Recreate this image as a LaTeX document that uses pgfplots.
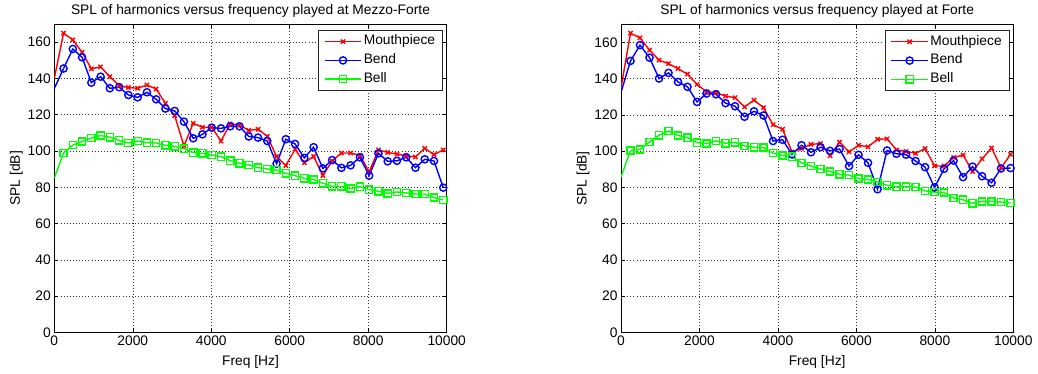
\documentclass[border=0pt]{standalone}
\usepackage{pgfplots}
\pgfplotsset{compat=1.18}
\usepackage{pgfplotstable}
\usepackage{fontspec}
\setmainfont{Liberation Sans}

% SPL of the first harmonics at three measuring points, Mezzo-Forte
\pgfplotstableread{
f      mp     bend   bell
0      140.0  134.5  85.0
236    165.0  145.5  98.9
472    161.3  156.3  103.3
708    154.5  151.7  105.2
944    145.3  137.7  107.2
1180   146.4  141.0  108.5
1416   141.0  134.6  107.6
1652   136.0  135.2  105.9
1888   135.0  130.9  104.4
2124   134.6  129.6  105.5
2360   136.4  132.4  104.6
2596   134.2  128.5  104.4
2832   126.3  123.4  103.1
3068   119.5  122.1  102.6
3304   102.8  116.2  101.3
3540   115.3  107.0  99.1
3776   113.1  109.2  98.7
4012   113.1  112.9  97.8
4248   105.5  112.5  96.9
4484   115.0  113.6  94.7
4720   114.3  113.6  93.2
4956   111.4  108.0  92.3
5192   112.0  107.4  90.8
5428   108.1  105.5  90.1
5664   96.9   93.0   89.5
5900   92.0   106.5  87.7
6136   101.0  103.9  86.4
6372   93.5   96.2   84.9
6608   97.0   102.1  84.3
6844   86.5   90.4   82.2
7080   94.5   95.0   80.5
7316   98.9   90.7   80.5
7552   98.9   92.1   79.3
7788   97.6   96.5   80.3
8024   88.6   86.4   78.7
8260   100.6  98.7   77.8
8496   99.2   94.3   76.6
8732   98.3   94.6   77.4
8968   97.4   96.5   76.9
9204   96.7   90.8   76.3
9440   101.5  95.4   76.3
9676   98.0   94.5   74.3
9912   100.6  79.8   73.0
}\mezzo

% the same at Forte
\pgfplotstableread{
f       mp     bend   bell
0       135.0  132.5  85.8
242.2   165.1  149.8  100.4
484.4   162.5  158.5  100.9
726.6   155.8  151.6  105.1
968.8   150.2  140.1  108.8
1211.0  148.3  143.2  111.1
1453.2  145.5  138.2  108.7
1695.4  142.5  135.5  107.5
1937.6  136.8  127.2  104.7
2179.8  132.8  131.8  104.2
2422.0  132.3  131.4  105.7
2664.2  130.4  126.5  104.4
2906.4  129.5  124.8  104.9
3148.6  124.4  119.0  102.9
3390.8  128.2  122.0  102.2
3633.0  124.0  119.7  102.0
3875.2  114.6  105.6  98.9
4117.4  112.1  106.3  97.6
4359.6  99.6   98.2   97.0
4601.8  101.5  103.3  93.6
4844.0  103.8  99.4   91.8
5086.2  104.2  102.2  90.2
5328.4  97.5   100.2  88.8
5570.6  105.0  101.2  87.3
5812.8  99.6   91.8   86.8
6055.0  103.3  98.0   84.9
6297.2  102.4  93.6   84.4
6539.4  106.6  79.0   83.0
6781.6  106.8  100.4  81.2
7023.8  100.7  98.6   80.4
7266.0  99.9   98.1   80.4
7508.2  98.8   94.6   80.2
7750.4  101.5  91.2   78.1
7992.6  91.9   80.0   77.4
8234.8  91.8   90.3   77.2
8477.0  96.5   94.8   74.2
8719.2  97.9   85.7   73.2
8961.4  88.8   91.5   71.3
9203.6  95.8   86.2   72.3
9445.8  101.8  82.6   72.3
9688.0  90.8   90.5   72.0
9930.2  98.3   90.7   71.5
}\forte

\newcommand{\chartfont}{\fontsize{13.8pt}{16pt}\selectfont}

\pgfplotsset{
  spl/.style={
    scale only axis, width=392.4pt, height=308.2pt,
    xmin=0, xmax=10000, ymin=0, ymax=170,
    xtick={0,2000,...,10000}, ytick={0,20,...,160},
    scaled x ticks=false,
    /pgf/number format/set thousands separator={},
    /pgf/number format/assume math mode=true,
    grid=major,
    grid style={black!80, line width=0.5pt, dash pattern=on 0.9pt off 2.2pt},
    tick align=inside, major tick length=4pt,
    tick style={black, line width=0.5pt},
    axis line style={black, line width=0.6pt},
    tick label style={font=\chartfont},
    every axis title/.style={at={(axis description cs:0.5,1)}, anchor=base, yshift=9.9pt, font=\chartfont},
    every axis x label/.style={at={(axis description cs:0.5,0)}, anchor=base, yshift=-33pt, font=\chartfont},
    every axis y label/.style={at={(axis description cs:0,0.5)}, xshift=-34.5pt, rotate=90, anchor=base, font=\chartfont},
    xlabel={Freq [Hz]}, ylabel={SPL [dB]},
    legend cell align=left,
    legend image code/.code={%
      \draw[mark repeat=2, mark phase=2, #1] plot coordinates {(0pt,0pt) (18.35pt,0pt) (36.7pt,0pt)};},
    legend style={at={(axis description cs:1,1)}, anchor=north east, xshift=-4pt, yshift=-6pt,
      draw=black!85, line width=0.6pt, fill=white, font=\chartfont,
      inner xsep=5.6pt, inner ysep=1.8pt, row sep=0pt,
      nodes={inner xsep=1.7pt, inner ysep=3pt, text height=9.8pt, text depth=3pt}},
  },
  mouth/.style={color=red, line width=1.4pt, mark=x, mark size=3pt, mark options={solid}},
  bend/.style={color=blue, line width=1.4pt, mark=o, mark size=3.6pt, mark options={solid}},
  bell/.style={color=green, line width=1.4pt, mark=square, mark size=3.6pt, mark options={solid}},
}

\begin{document}
\begin{tikzpicture}
\path[use as bounding box, fill=white] (0pt,0pt) rectangle (1038pt,374pt);

\begin{axis}[spl, at={(54.3pt,41.7pt)}, anchor=south west,
  title={SPL of harmonics versus frequency played at Mezzo-Forte}]
  \addplot[mouth, skip coords between index={0}{1}] table[x=f, y=mp] {\mezzo};
  \addplot[bend, skip coords between index={0}{1}] table[x=f, y=bend] {\mezzo};
  \addplot[bell, skip coords between index={0}{1}] table[x=f, y=bell] {\mezzo};
  \legend{Mouthpiece, Bend, Bell}
  % the segments from 0 Hz carry no marker
  \addplot[mouth, no marks, forget plot, skip coords between index={2}{100}] table[x=f, y=mp] {\mezzo};
  \addplot[bend, no marks, forget plot, skip coords between index={2}{100}] table[x=f, y=bend] {\mezzo};
  \addplot[bell, no marks, forget plot, skip coords between index={2}{100}] table[x=f, y=bell] {\mezzo};
\end{axis}

\begin{axis}[spl, at={(621pt,41.5pt)}, anchor=south west, width=392.3pt,
  title={SPL of harmonics versus frequency played at Forte}]
  \addplot[mouth, skip coords between index={0}{1}] table[x=f, y=mp] {\forte};
  \addplot[bend, skip coords between index={0}{1}] table[x=f, y=bend] {\forte};
  \addplot[bell, skip coords between index={0}{1}] table[x=f, y=bell] {\forte};
  \legend{Mouthpiece, Bend, Bell}
  \addplot[mouth, no marks, forget plot, skip coords between index={2}{100}] table[x=f, y=mp] {\forte};
  \addplot[bend, no marks, forget plot, skip coords between index={2}{100}] table[x=f, y=bend] {\forte};
  \addplot[bell, no marks, forget plot, skip coords between index={2}{100}] table[x=f, y=bell] {\forte};
\end{axis}
\end{tikzpicture}
\end{document}
